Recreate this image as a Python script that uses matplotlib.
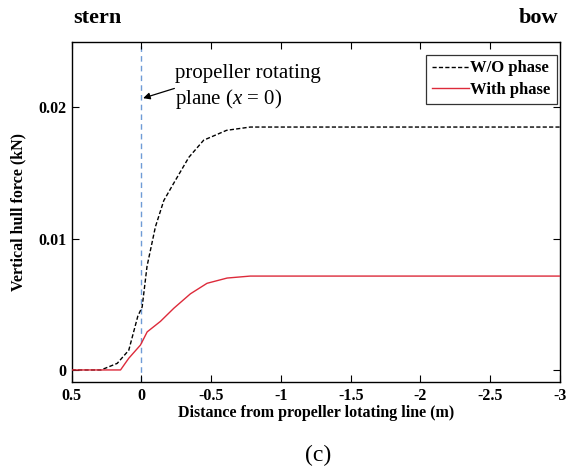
import matplotlib
matplotlib.use("Agg")
import matplotlib.pyplot as plt

plt.rcParams['font.family'] = ['Liberation Serif', 'DejaVu Serif']
plt.rcParams['mathtext.fontset'] = 'custom'
plt.rcParams['mathtext.rm'] = 'Liberation Serif'
plt.rcParams['mathtext.it'] = 'Liberation Serif:italic'
plt.rcParams['axes.unicode_minus'] = False

# Distance from the propeller plane (m) and vertical hull force (kN)
x_wo = [0.5, 0.29, 0.174, 0.091, 0.026, -0.005, -0.04, -0.10, -0.16, -0.23,
        -0.34, -0.446, -0.61, -0.78, -1.0, -3.0]
f_wo = [0.0, 0.0, 0.0005, 0.0015, 0.0041, 0.0048, 0.0079, 0.0109, 0.0129,
        0.0142, 0.0162, 0.0175, 0.01825, 0.0185, 0.0185, 0.0185]

x_with = [0.5, 0.15, 0.091, 0.007, -0.041, -0.136, -0.232, -0.351, -0.47,
          -0.614, -0.78, -1.0, -3.0]
f_with = [0.0, 0.0, 0.00089, 0.0019, 0.0029, 0.0037, 0.0047, 0.0058, 0.0066,
          0.0070, 0.00715, 0.00715, 0.00715]

x_ticks = [0.5, 0, -0.5, -1, -1.5, -2, -2.5, -3]
x_labels = ['0.5', '0', '-0.5', '-1', '-1.5', '-2', '-2.5', '-3']
y_ticks = [0, 0.01, 0.02]
y_labels = ['0', '0.01', '0.02']

W, H = 567, 472
fig = plt.figure(figsize=(W / 100, H / 100), dpi=100)
ax = fig.add_axes([71.7 / W, 1 - 382.3 / H, (560 - 71.7) / W, (382.3 - 41.7) / H])

ax.axvline(0, color='#6f9bd6', lw=1.0, ls=(0, (4, 3)), zorder=1)
ax.plot(x_wo, f_wo, color='black', lw=1.0, ls=(0, (3, 1.6)), label='W/O phase', zorder=3)
ax.plot(x_with, f_with, color='#dd2a3a', lw=1.0, label='With phase', zorder=3)

ax.set_xlim(0.5, -3)
ax.set_ylim(-0.00094, 0.025)
ax.set_xticks(x_ticks)
ax.set_xticklabels(x_labels, fontsize=11.5, fontweight='bold')
ax.set_yticks(y_ticks)
ax.set_yticklabels(y_labels, fontsize=11.5, fontweight='bold')
ax.tick_params(direction='in', top=True, right=True, length=5, width=0.8, pad=4)
for s in ax.spines.values():
    s.set_linewidth(1.0)

ax.set_xlabel('Distance from propeller lotating line (m)', fontsize=11.5,
              fontweight='bold', labelpad=1)
ax.set_ylabel('Vertical hull force (kN)', fontsize=11.5, fontweight='bold', labelpad=8)

leg = ax.legend(loc='upper right', bbox_to_anchor=(0.993, 0.962),
                prop={'weight': 'bold', 'size': 12}, frameon=True, fancybox=False,
                handlelength=2.2, handletextpad=0.1, borderpad=0.35,
                labelspacing=0.35, borderaxespad=0)
leg.get_frame().set_edgecolor('black')
leg.get_frame().set_linewidth(0.9)

ax.text(-0.243, 0.02152, 'propeller rotating\nplane ($x$ = $\\mathit{0}$)',
        fontsize=15, ha='left', va='center', linespacing=1.25)
ax.annotate('', xy=(-0.012, 0.0207), xytext=(-0.236, 0.02144),
            arrowprops=dict(arrowstyle='-|>', color='black', lw=0.9,
                            mutation_scale=10, shrinkA=0, shrinkB=0))

fig.text(73 / W, 1 - 18 / H, 'stern', fontsize=16, fontweight='bold',
         ha='left', va='center')
fig.text(558 / W, 1 - 18 / H, 'bow', fontsize=16, fontweight='bold',
         ha='right', va='center')
fig.text(318 / W, 1 - 455 / H, '(c)', fontsize=17, ha='center', va='center')

fig.savefig('out.png', dpi=100)
